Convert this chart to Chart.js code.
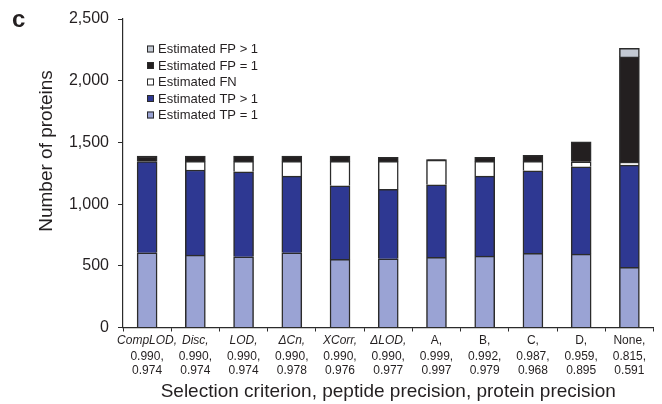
<!DOCTYPE html>
<html>
<head>
<meta charset="utf-8">
<script src="https://cdn.jsdelivr.net/npm/chart.js@4/dist/chart.umd.min.js"></script>
<style>
  html, body { margin: 0; padding: 0; background: #fff; }
  #wrap { width: 662px; height: 404px; position: relative; }
</style>
</head>
<body>
<div id="wrap"><canvas id="proteinChart"></canvas></div>
<script>
// selection criteria and the precisions printed under each bar
const criteria = ['CompLOD', 'Disc', 'LOD', 'ΔCn', 'XCorr', 'ΔLOD', 'A', 'B', 'C', 'D', 'None'];
const peptidePrecision = ['0.990', '0.990', '0.990', '0.990', '0.990', '0.990', '0.999', '0.992', '0.987', '0.959', '0.815'];
const proteinPrecision = ['0.974', '0.974', '0.974', '0.978', '0.976', '0.977', '0.997', '0.979', '0.968', '0.895', '0.591'];
const italicCriteria = ['CompLOD', 'Disc', 'LOD', 'ΔCn', 'XCorr', 'ΔLOD'];

// stacked segments, bottom to top
const tpOne   = [605, 587, 573, 606, 552, 557, 569, 579, 601, 595, 488];
const tpMulti = [740, 689, 689, 621, 597, 562, 588, 648, 669, 707, 828];
const fn      = [0, 70, 84, 119, 197, 227, 200, 119, 76, 41, 25];
const fpOne   = [45, 43, 43, 43, 43, 33, 4, 33, 49, 162, 852];
const fpMulti = [0, 0, 0, 0, 0, 0, 0, 0, 0, 0, 69];

const yTicks = [0, 500, 1000, 1500, 2000, 2500];

const FONT = "'Liberation Sans', Arial, Helvetica, sans-serif";
const INK = '#231f20';
const EDGE = '#2b2b2b';

Chart.defaults.font.family = FONT;
Chart.defaults.color = INK;

function seg(label, data, color) {
    return {
        label: label,
        data: data,
        backgroundColor: color,
        borderColor: EDGE,
        borderWidth: 1.5,
        barThickness: 20
    };
}

// x labels: criterion (italic for scores), then the two precisions
const xLabelPlugin = {
    id: 'xLabels',
    afterDraw(chart) {
        const ctx = chart.ctx;
        const xs = chart.scales.x;
        ctx.save();
        ctx.fillStyle = INK;
        ctx.textAlign = 'center';
        ctx.textBaseline = 'middle';
        criteria.forEach((c, i) => {
            const x = xs.getPixelForValue(i);
            ctx.font = (italicCriteria.includes(c) ? 'italic ' : '') + '12px ' + FONT;
            ctx.fillText(c + ',', x, 341);
            ctx.font = '12px ' + FONT;
            ctx.fillText(peptidePrecision[i] + ',', x, 356.5);
            ctx.fillText(proteinPrecision[i], x, 371);
        });
        ctx.restore();
    }
};

// legend inside the plot, top entry = top segment; plus y title and panel letter
const legendPlugin = {
    id: 'innerLegend',
    afterDraw(chart) {
        const ctx = chart.ctx;
        const sets = chart.data.datasets.slice().reverse();
        ctx.save();
        ctx.font = '13px ' + FONT;
        ctx.textBaseline = 'middle';
        ctx.textAlign = 'left';
        sets.forEach((ds, i) => {
            const y = 49 + i * 16.5;
            ctx.fillStyle = ds.backgroundColor;
            ctx.fillRect(147, y - 3.5, 7, 7);
            ctx.strokeStyle = EDGE;
            ctx.lineWidth = 1;
            ctx.strokeRect(147.5, y - 3, 6, 6);
            ctx.fillStyle = INK;
            ctx.fillText(ds.label, 158, y + 0.5);
        });

        // y axis title, sits a bit above the plot's middle
        ctx.save();
        ctx.translate(47, 151);
        ctx.rotate(-Math.PI / 2);
        ctx.textAlign = 'center';
        ctx.font = '19px ' + FONT;
        ctx.fillText('Number of proteins', 0, 0);
        ctx.restore();

        // panel letter
        ctx.font = 'bold 24px ' + FONT;
        ctx.textBaseline = 'alphabetic';
        ctx.fillText('c', 12, 27);
        ctx.restore();
    }
};

new Chart(document.getElementById('proteinChart'), {
    type: 'bar',
    data: {
        labels: criteria,
        datasets: [
            seg('Estimated TP = 1', tpOne, '#9aa3d4'),
            seg('Estimated TP > 1', tpMulti, '#2e3892'),
            seg('Estimated FN', fn, '#ffffff'),
            seg('Estimated FP = 1', fpOne, '#231f20'),
            seg('Estimated FP > 1', fpMulti, '#c3c9d3')
        ]
    },
    options: {
        responsive: true,
        maintainAspectRatio: false,
        animation: false,
        layout: { padding: { top: 19, right: 8.5, bottom: 0, left: 0 } },
        plugins: {
            legend: { display: false },
            tooltip: { enabled: false }
        },
        scales: {
            x: {
                stacked: true,
                grid: { drawOnChartArea: false, drawTicks: true, tickLength: 4, color: EDGE, offset: true },
                border: { display: true, color: EDGE, width: 1.2 },
                ticks: { display: false },
                title: {
                    display: true,
                    text: 'Selection criterion, peptide precision, protein precision',
                    font: { size: 19, family: FONT },
                    color: INK,
                    padding: { top: 0, bottom: 1 }
                },
                afterFit(s) { s.height = 76.5; }
            },
            y: {
                stacked: true,
                min: 0,
                max: 2500,
                afterBuildTicks(s) { s.ticks = yTicks.map(v => ({ value: v })); },
                ticks: {
                    font: { size: 16, family: FONT },
                    color: INK,
                    padding: 9,
                    callback: v => v.toLocaleString('en-US')
                },
                grid: { drawOnChartArea: false, drawTicks: true, tickLength: 5, color: EDGE },
                border: { display: true, color: EDGE, width: 1.2 },
                afterFit(s) { s.width = 123; }
            }
        }
    },
    plugins: [xLabelPlugin, legendPlugin]
});
</script>
</body>
</html>
